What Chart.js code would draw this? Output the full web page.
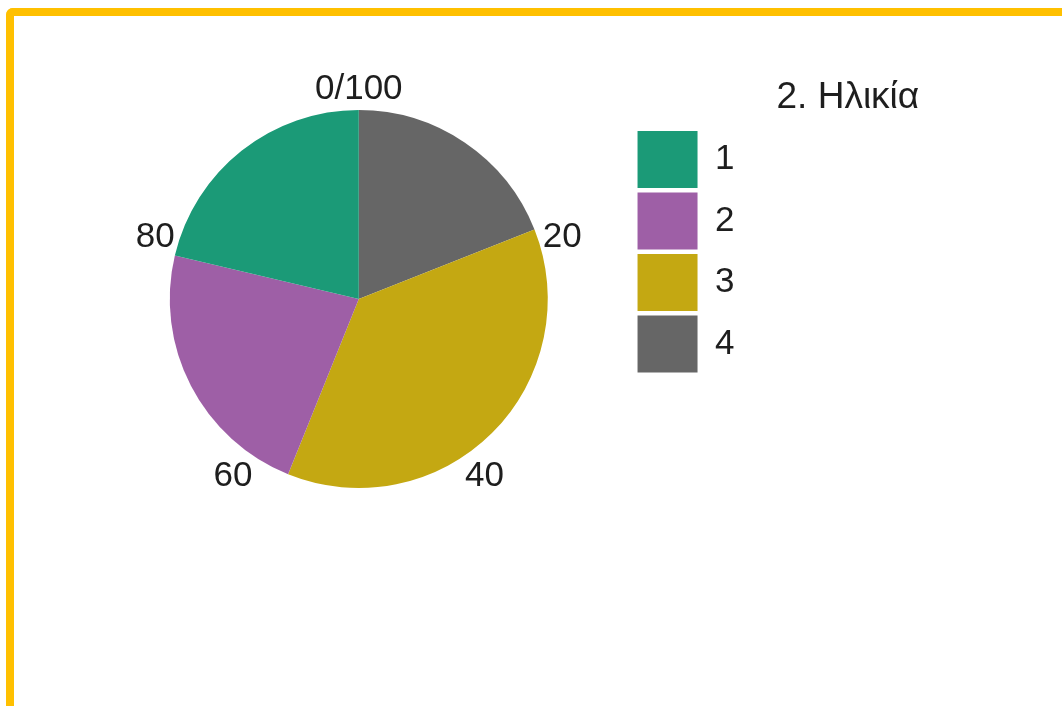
<!DOCTYPE html>
<html>
<head>
<meta charset="utf-8">
<script src="https://cdn.jsdelivr.net/npm/chart.js@4"></script>
<style>
  html, body { margin: 0; padding: 0; background: #fff; overflow: hidden; }
  #frame {
    position: absolute; left: 6px; top: 8px; width: 1200px; height: 900px;
    border-top: 8px solid #ffc000; border-left: 8px solid #ffc000;
    border-top-left-radius: 7px;
  }
  #wrap { position: absolute; left: 0; top: 0; width: 1062px; height: 706px; }
</style>
</head>
<body>
<div id="frame"></div>
<div id="wrap"><canvas id="agePie"></canvas></div>
<script>
// ---- data ----
const categories = ['1', '2', '3', '4'];
const shares = [21.3, 22.6, 37.1, 19.0];   // percent
const sliceColors = ['#1b9a77', '#9e5fa6', '#c4a812', '#666666'];
const tickValues = [0, 20, 40, 60, 80];
const tickLabels = ['0/100', '20', '40', '60', '80'];
const legendTitle = '2. Ηλικία';

const FONT = '"Liberation Sans", Arial, Helvetica, sans-serif';
const TEXT = '#1e1e1e';

// slices go clockwise from the top starting with the last category
const drawLabels = categories.slice().reverse();
const drawData = shares.slice().reverse();
const drawColors = sliceColors.slice().reverse();

// percent ticks round the pie + legend title
const pieExtras = {
  id: 'pieExtras',
  afterDraw(chart) {
    const ctx = chart.ctx;
    const arc = chart.getDatasetMeta(0).data[0];
    if (!arc) return;
    const cx = arc.x, cy = arc.y + 4, r = arc.outerRadius + 25;
    ctx.save();
    ctx.fillStyle = TEXT;
    ctx.font = '35px ' + FONT;
    ctx.textAlign = 'center';
    ctx.textBaseline = 'middle';
    tickValues.forEach((v, i) => {
      const a = v / 100 * Math.PI * 2;
      ctx.fillText(tickLabels[i], cx + r * Math.sin(a), cy - r * Math.cos(a));
    });
    // legend title sits to the right, above the boxes
    const hb = chart.legend.legendHitBoxes[0];
    if (hb) {
      ctx.font = '37px ' + FONT;
      ctx.textAlign = 'left';
      ctx.fillText(legendTitle, hb.left + 139, hb.top - 33);
    }
    ctx.restore();
  }
};

const c1 = document.getElementById('agePie').getContext('2d');
new Chart(c1, {
  type: 'pie',
  data: {
    labels: drawLabels,
    datasets: [{
      data: drawData,
      backgroundColor: drawColors,
      borderWidth: 0
    }]
  },
  options: {
    responsive: true,
    maintainAspectRatio: false,
    animation: false,
    radius: 189,
    layout: { padding: { left: 84.5, right: 317.5, top: 126.5, bottom: 234.5 } },
    plugins: {
      tooltip: { enabled: false },
      legend: {
        position: 'right',
        align: 'start',
        reverse: true,
        labels: {
          boxWidth: 60,
          boxHeight: 57,
          padding: 4.5,
          color: TEXT,
          font: { family: FONT, size: 35 }
        }
      }
    }
  },
  plugins: [pieExtras]
});
</script>
</body>
</html>
